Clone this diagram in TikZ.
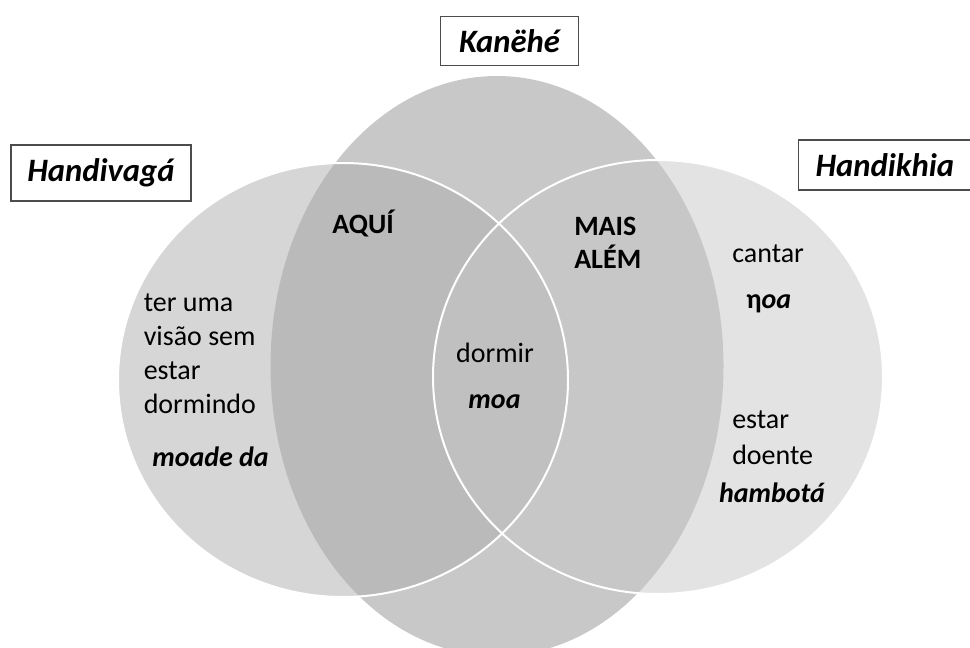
\documentclass[tikz,border=0pt]{standalone}
\usepackage{fontspec}
\setmainfont{Carlito}
\usetikzlibrary{positioning}
\definecolor{midgray}{gray}{0.784}
\definecolor{leftgray}{gray}{0.839}
\definecolor{rightgray}{gray}{0.89}
\definecolor{lmgray}{gray}{0.729}
\definecolor{rmgray}{gray}{0.78}
\definecolor{allgray}{gray}{0.753}
\tikzset{
  lbl/.style={draw=black!70, line width=0.8pt, inner sep=0pt,
    font=\fontsize{24.5}{28}\selectfont\bfseries\itshape},
  txt/.style={inner sep=0pt, align=left, anchor=base west,
    font=\fontsize{21}{25.3}\selectfont},
  midell/.style={x radius=226.5, y radius=290},
  sideell/.style={x radius=225, y radius=217}
}

\begin{document}
\begin{tikzpicture}[x=0.75pt,y=-0.75pt]
                        \clip (0,0) rectangle (970,648);
                        \coordinate (cm) at (497,366);
                        \coordinate (cl) at (343,380);
                        \coordinate (cr) at (658,377);

                        \fill[midgray] (cm) ellipse [midell];
                        \fill[leftgray] (cl) ellipse [sideell];
                        \fill[rightgray] (cr) ellipse [sideell];
                        \begin{scope}
                          \clip (cl) ellipse [sideell];
                          \fill[lmgray] (cm) ellipse [midell];
                        \end{scope}
                        \begin{scope}
                          \clip (cr) ellipse [sideell];
                          \fill[rmgray] (cm) ellipse [midell];
                          \clip (cl) ellipse [sideell];
                          \fill[allgray] (cm) ellipse [midell];
                        \end{scope}
                        \draw[white, line width=1.5pt] (cl) ellipse [sideell];
                        \draw[white, line width=1.5pt] (cr) ellipse [sideell];

                        \node[lbl, minimum width=104pt, minimum height=36.4pt] (kanehe) at (509.5,41) {Kanëhé};
                        \node[lbl, minimum width=135pt, minimum height=42pt] (handivaga) at (101,173) {Handivagá};
                        \node[lbl, anchor=west, minimum height=37.5pt, inner xsep=12.75pt, text width=110pt] (handikhia) at (798,165) {Handikhia};

                        \node[txt] (visao) at (143.5,413) {ter uma\\visão sem\\estar\\dormindo};
                        \node[txt, font=\fontsize{21}{25.3}\selectfont\bfseries\itshape] (moade) at (152,466) {moade da};
                        \node[txt, font=\fontsize{21}{25.3}\selectfont\bfseries] (aqui) at (332,234) {AQUÍ};
                        \node[txt, font=\fontsize{21}{24.8}\selectfont\bfseries] (alem) at (574,269) {MAIS\\ALÉM};
                        \node[txt, anchor=base] (dormir) at (495,363) {dormir};
                        \node[txt, anchor=base, font=\fontsize{21}{25.3}\selectfont\bfseries\itshape] (moa) at (494.5,408) {moa};
                        \node[txt] (cantar) at (732,263) {cantar};
                        \node[txt, font=\fontsize{21}{25.3}\selectfont\bfseries] (noa) at (746,309) {η\textit{oa}};
                        \node[txt, font=\fontsize{21}{26.3}\selectfont] (doente) at (732,464) {estar\\doente};
                        \node[txt, anchor=base, font=\fontsize{21}{25.3}\selectfont\bfseries\itshape] (hambota) at (772,502) {hambotá};
                    \end{tikzpicture}
\end{document}
